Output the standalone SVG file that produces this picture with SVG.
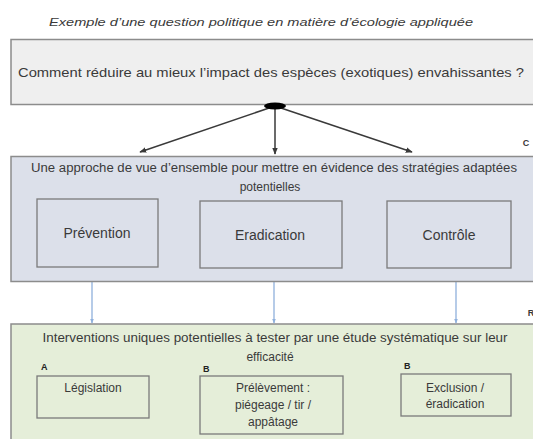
<svg xmlns="http://www.w3.org/2000/svg" width="533" height="439" viewBox="0 0 533 439">
<defs>
<style>
text{font-family:"Liberation Sans",Arial,sans-serif;fill:#3a3a3a;text-anchor:middle;dominant-baseline:central}
.box{stroke:#8c8c8c;stroke-width:1.5}
.inner{fill:none;stroke:#7a7a7a;stroke-width:1.3}
.lbl{font-size:9px;font-weight:bold;fill:#222;text-anchor:start}
.blk{stroke:#3a3a3a;stroke-width:1.5;fill:none;marker-end:url(#ah)}
.blu{stroke:#8fb0dc;stroke-width:1.3;fill:none;marker-end:url(#ab)}
</style>
<marker id="ah" viewBox="0 0 10 10" refX="9" refY="5" markerWidth="7" markerHeight="7" orient="auto" markerUnits="userSpaceOnUse">
<path d="M0,1 L10,5 L0,9 Z" fill="#3a3a3a"/>
</marker>
<marker id="ab" viewBox="0 0 10 10" refX="9" refY="5" markerWidth="5" markerHeight="5" orient="auto" markerUnits="userSpaceOnUse">
<path d="M0,1 L10,5 L0,9 Z" fill="#8fb0dc"/>
</marker>
</defs>
<rect width="533" height="439" fill="#ffffff"/>
<text x="261" y="22" font-size="11.5" font-style="italic" textLength="424" lengthAdjust="spacingAndGlyphs">Exemple d’une question politique en matière d’écologie appliquée</text>

<g id="question">
<rect class="box" x="11" y="39.5" width="530" height="65" fill="#efefef"/>
<text x="271" y="72" font-size="13" textLength="506" lengthAdjust="spacingAndGlyphs">Comment réduire au mieux l’impact des espèces (exotiques) envahissantes ?</text>
</g>

<g id="connectors">
<line class="blk" x1="275" y1="106" x2="140" y2="152"/>
<line class="blk" x1="275" y1="106" x2="275" y2="154"/>
<line class="blk" x1="275" y1="106" x2="412" y2="152"/>
<ellipse cx="275" cy="106" rx="11" ry="3.5" fill="#000"/>
<line class="blu" x1="92" y1="282" x2="92" y2="323"/>
<line class="blu" x1="274" y1="282" x2="274" y2="323"/>
<line class="blu" x1="456" y1="282" x2="456" y2="323"/>
</g>

<text x="526" y="143" font-size="9" font-weight="bold" fill="#222">C</text>
<text x="531" y="313" font-size="9" font-weight="bold" fill="#222">R</text>

<g id="strategies">
<rect class="box" x="11" y="156.5" width="530" height="125" fill="#dce0ea"/>
<text x="274" y="168" font-size="12" textLength="486" lengthAdjust="spacingAndGlyphs">Une approche de vue d’ensemble pour mettre en évidence des stratégies adaptées</text>
<text x="270" y="187" font-size="12">potentielles</text>
</g>
<g id="prevention">
<rect class="inner" x="37" y="199" width="121" height="68"/>
<text x="97" y="233" font-size="14">Prévention</text>
</g>
<g id="eradication">
<rect class="inner" x="200" y="201" width="142" height="67"/>
<text x="270" y="235" font-size="14">Eradication</text>
</g>
<g id="controle">
<rect class="inner" x="387" y="201" width="124" height="67"/>
<text x="449" y="235" font-size="14">Contrôle</text>
</g>

<g id="interventions">
<rect class="box" x="11" y="324" width="530" height="130" fill="#e5eed9"/>
<text x="275" y="338" font-size="12" textLength="465" lengthAdjust="spacingAndGlyphs">Interventions uniques potentielles à tester par une étude systématique sur leur</text>
<text x="270" y="357" font-size="12">efficacité</text>
</g>
<g id="legislation">
<text class="lbl" x="41" y="367">A</text>
<rect class="inner" x="37" y="376" width="112" height="42"/>
<text x="93" y="388" font-size="12">Législation</text>
</g>
<g id="prelevement">
<text class="lbl" x="203" y="369">B</text>
<rect class="inner" x="200" y="376" width="143" height="58"/>
<text x="273" y="388" font-size="12">Prélèvement :</text>
<text x="273" y="405" font-size="12">piégeage / tir /</text>
<text x="273" y="422" font-size="12">appâtage</text>
</g>
<g id="exclusion">
<text class="lbl" x="404" y="366">B</text>
<rect class="inner" x="401" y="374" width="110" height="42"/>
<text x="455" y="388" font-size="12">Exclusion /</text>
<text x="455" y="404" font-size="12">éradication</text>
</g>
</svg>
